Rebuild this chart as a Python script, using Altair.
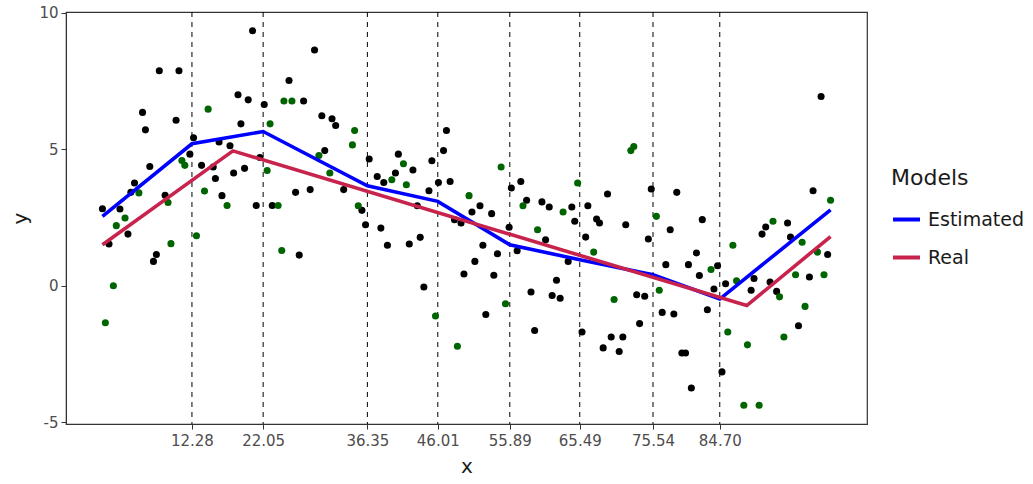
import altair as alt
import pandas as pd

# ---- data ----
knots = [12.28, 22.05, 36.35, 46.01, 55.89, 65.49, 75.54, 84.70]

est_x = [0.0, 12.28, 22.05, 36.35, 46.01, 55.89, 65.49, 75.54, 84.70, 99.9]
est_y = [2.54, 5.20, 5.65, 3.66, 3.09, 1.50, 0.95, 0.40, -0.49, 2.78]

real_x = [0.0, 17.9, 88.4, 99.9]
real_y = [1.50, 4.94, -0.73, 1.80]

black_x = [20.6, 29.1, 7.8, 10.5, 25.6, 18.6, 20.0, 27.6, 22.2, 5.5, 10.1, 30.1, 31.5, 32.0,
           5.9, 19.0, 12.5, 16.0, 17.5, 12.0, 30.5, 21.6, 13.6, 15.2, 6.5, 19.5, 18.0, 15.5,
           4.4, 3.9, 8.6, 16.4, 26.5, 28.5, 0.0, 2.4, 21.1, 23.3,
           3.5, 0.9, 7.4, 7.0, 27.0,
           47.2, 46.8, 40.6, 36.6, 45.2, 42.6, 37.7, 40.2, 38.6, 46.1, 47.7, 33.1, 44.8, 56.1,
           57.4, 58.2, 60.3, 61.3, 64.4, 66.6, 69.3, 67.8, 68.2, 64.8, 35.6, 36.1, 38.2, 39.1,
           42.1, 43.6, 43.2, 51.8, 50.7, 53.4, 48.3, 49.2, 55.8, 60.8, 52.2, 54.2, 51.1, 56.9,
           66.3, 63.9, 49.6, 53.7, 62.3,
           44.1, 58.8, 61.7, 62.8, 52.6, 59.3, 65.8, 68.7,
           98.6, 75.3, 78.8, 97.5, 71.8, 77.9, 82.3, 74.9, 94.0, 91.0, 90.5, 94.4, 81.5, 77.3,
           80.4, 99.5, 84.4, 81.9, 97.0,
           85.5, 89.4, 89.0, 83.9, 91.6, 92.5, 73.3, 74.4, 76.8, 78.4, 83.0, 73.7, 95.5, 69.8,
           71.4, 70.9, 79.5, 80.0, 85.0, 80.8]
black_y = [9.34, 8.64, 7.88, 7.88, 7.52, 7.00, 6.81, 6.77, 6.64, 6.35, 6.06, 6.23, 6.12, 5.87,
           5.71, 5.93, 5.42, 5.27, 5.13, 4.82, 4.95, 4.70, 4.41, 4.35, 4.37, 4.30, 4.13, 3.93,
           3.76, 3.42, 3.31, 3.30, 3.42, 3.52, 2.82, 2.81, 2.94, 2.94,
           1.89, 1.53, 1.14, 0.89, 1.12,
           5.69, 4.95, 4.82, 4.64, 4.58, 4.24, 4.00, 4.13, 3.78, 3.78, 3.82, 3.52, 3.48, 3.58,
           3.82, 3.13, 3.07, 2.88, 2.88, 2.93, 3.36, 2.44, 2.30, 2.36, 2.76, 2.23, 2.11, 1.48,
           1.53, 1.77, 2.93, 2.93, 2.70, 2.64, 2.42, 2.30, 2.14, 1.68, 1.48, 1.17, 0.89, 1.28,
           1.78, 0.89, 0.43, 0.38, 0.20,
           -0.05, -0.23, -0.36, -0.46, -1.06, -1.64, -1.70, -2.28,
           6.93, 3.54, 3.42, 3.48, 2.23, 2.05, 2.42, 1.71, 2.30, 2.15, 1.89, 1.78, 1.20, 0.77,
           0.77, 1.14, 0.73, 0.37, 0.32,
           0.07, 0.26, -0.17, -0.12, 0.13, -0.21, -0.33, -0.39, -0.98, -1.04, -0.88, -1.39, -1.47, -1.88,
           -1.88, -2.41, -2.47, -2.47, -3.16, -3.75]

green_x = [14.5, 24.9, 26.0, 23.0, 10.9, 11.3, 29.7, 31.2, 22.6, 14.0, 5.0, 9.0, 17.1, 24.1, 3.1,
           1.9, 9.4, 12.9, 24.6, 1.5, 0.4,
           34.6, 34.3, 41.3, 54.7, 39.7, 41.7, 57.7, 63.2, 65.2, 35.1, 50.3, 59.7, 67.4,
           55.3, 45.7, 48.7,
           72.5, 72.9, 99.9, 76.0, 92.0, 96.0, 86.5, 98.1, 83.5, 95.1, 99.0,
           87.0, 92.9, 76.4, 70.2, 96.4, 93.5, 85.8, 88.5, 88.0, 90.1]
green_y = [6.47, 6.77, 6.77, 5.93, 4.59, 4.41, 4.77, 4.13, 4.22, 3.47, 3.40, 3.05, 2.94, 2.94, 2.48,
           2.20, 1.54, 1.83, 1.29, 0.00, -1.36,
           5.69, 5.16, 4.47, 4.35, 3.88, 3.70, 2.93, 2.70, 3.76, 2.93, 3.30, 2.05, 1.23,
           -0.66, -1.11, -2.22,
           4.95, 5.10, 3.13, 2.54, 2.36, 1.59, 1.48, 1.23, 0.59, 0.40, 0.40,
           0.18, -0.41, -0.17, -0.51, -0.76, -1.88, -1.70, -2.17, -4.38, -4.38]

x_ticks = knots
y_ticks = [-5, 0, 5, 10]

# ---- tables ----
df_black = pd.DataFrame({"x": black_x, "y": black_y})
df_green = pd.DataFrame({"x": green_x, "y": green_y})
df_lines = pd.concat([
    pd.DataFrame({"x": est_x, "y": est_y, "model": "Estimated"}),
    pd.DataFrame({"x": real_x, "y": real_y, "model": "Real"}),
])
df_knots = pd.DataFrame({"x": knots})

FONT = "DejaVu Sans"
xs = alt.Scale(domain=[-5.0, 104.9], nice=False, zero=False)
ys = alt.Scale(domain=[-5.07, 10.03], nice=False, zero=False)
xaxis = alt.Axis(values=x_ticks, format=".2f", grid=False, title="x",
                 labelFontSize=15, labelColor="#4D4D4D", labelFont=FONT, labelPadding=4,
                 tickSize=5, tickColor="#333333", domainColor="#333333",
                 titleFontSize=20, titleFont=FONT, titleFontWeight="normal",
                 titleColor="#1A1A1A", titlePadding=8)
yaxis = alt.Axis(values=y_ticks, labelExpr="datum.value + ''", grid=False, title="y",
                 labelFontSize=15, labelColor="#4D4D4D", labelFont=FONT, labelPadding=3,
                 tickSize=5, tickColor="#333333", domainColor="#333333",
                 titleFontSize=20, titleFont=FONT, titleFontWeight="normal",
                 titleColor="#1A1A1A", titlePadding=8)

X = alt.X("x:Q", scale=xs, axis=xaxis)
Y = alt.Y("y:Q", scale=ys, axis=yaxis)

vlines = alt.Chart(df_knots).mark_rule(color="black", strokeWidth=1, strokeDash=[5, 5]).encode(x=X)

pts_black = alt.Chart(df_black).mark_circle(size=50, color="black", opacity=1).encode(x=X, y=Y)
pts_green = alt.Chart(df_green).mark_circle(size=50, color="#006400", opacity=1).encode(x=X, y=Y)

lines = alt.Chart(df_lines).mark_line(strokeWidth=3.6).encode(
    x=X, y=Y,
    color=alt.Color("model:N",
                    scale=alt.Scale(domain=["Estimated", "Real"], range=["#0000FF", "#C8234D"]),
                    legend=alt.Legend(title="Models", orient="none", legendX=825, legendY=156,
                                      symbolType="stroke", symbolStrokeWidth=4, symbolSize=729,
                                      titleFontSize=22, labelFontSize=19, titleFont=FONT,
                                      labelFont=FONT, titleFontWeight="normal",
                                      titleColor="#1A1A1A", labelColor="#1A1A1A",
                                      rowPadding=12, titlePadding=14, labelOffset=6)),
)

chart = alt.layer(vlines, pts_black, pts_green, lines).properties(
    width=801, height=412,
    padding={"left": 66, "top": 12, "right": 166, "bottom": 60},
    autosize=alt.AutoSizeParams(type="none"),
    background="white",
).configure_view(stroke="#333333", strokeWidth=1.2)

chart.save("out.html", embed_options={"renderer": "svg", "actions": False})
